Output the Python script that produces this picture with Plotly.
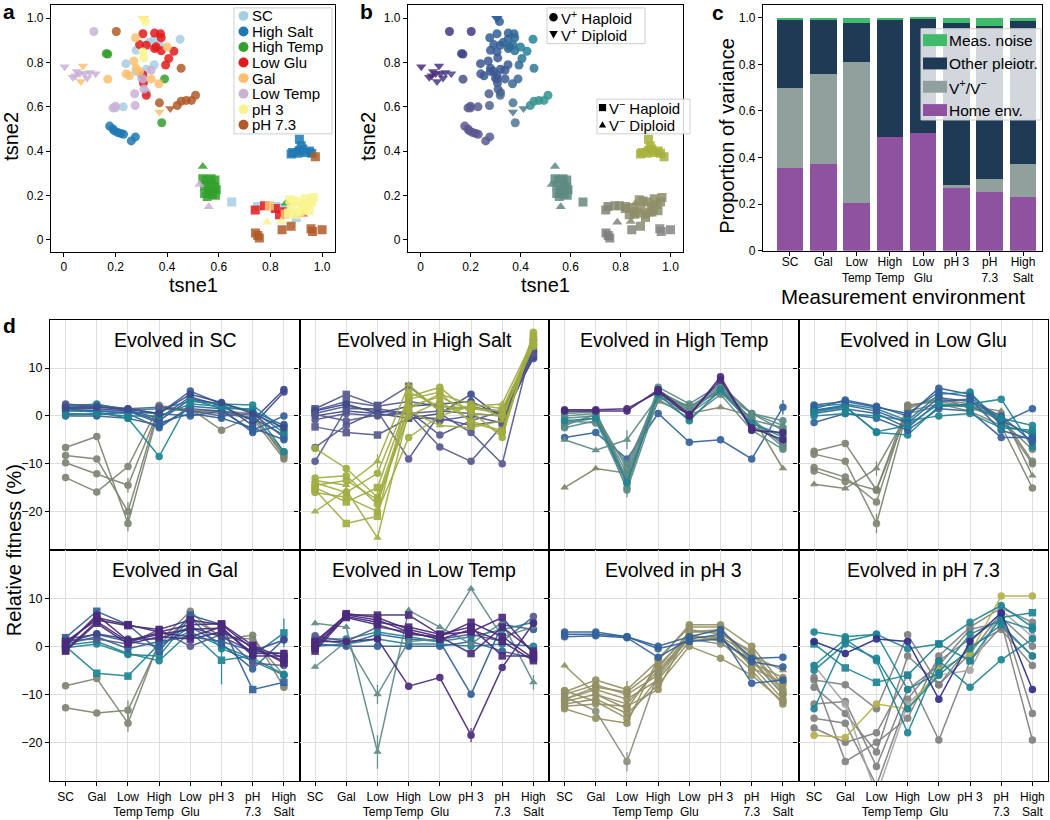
import plotly.graph_objects as go

W, H = 1050, 820
def px(x): return x / W
def py(y): return 1 - y / H

FONT = "Liberation Sans, Arial, Helvetica, sans-serif"

# ---------------- data ----------------
ENVS = ['SC', 'Gal', 'Low Temp', 'High Temp', 'Low Glu', 'pH 3', 'pH 7.3', 'High Salt']
ENV_TICKS = ['SC', 'Gal', 'Low<br>Temp', 'High<br>Temp', 'Low<br>Glu', 'pH 3', 'pH<br>7.3', 'High<br>Salt']
LEGEND_A = ['SC', 'High Salt', 'High Temp', 'Low Glu', 'Gal', 'Low Temp', 'pH 3', 'pH 7.3']

# t-SNE points per home environment: (tsne1, tsne2, kind) ; o=V+ haploid, v=V+ diploid, s=V- haploid, ^=V- diploid
PTS_SC = [(0.45,0.905,'o'),(0.35,0.905,'o'),(0.33,0.89,'o'),(0.37,0.88,'o'),(0.28,0.855,'o'),(0.24,0.795,'o'),
          (0.35,0.79,'o'),(0.32,0.77,'o'),(0.28,0.76,'o'),(0.23,0.60,'o'),(0.20,0.595,'o'),(0.32,0.665,'o'),(0.30,0.73,'o'),
          (0.65,0.17,'s'),(0.75,0.15,'s'),(0.82,0.15,'s'),(0.85,0.145,'s'),(0.90,0.10,'s')]
PTS_HSALT = [(0.177,0.513,'o'),(0.19,0.50,'o'),(0.196,0.491,'o'),(0.209,0.484,'o'),(0.22,0.48,'o'),(0.231,0.476,'o'),
             (0.261,0.446,'o'),(0.277,0.464,'o'),
             (0.912,0.454,'s'),(0.919,0.424,'s'),(0.886,0.394,'s'),(0.906,0.39,'s'),(0.938,0.394,'s'),(0.951,0.40,'s'),
             (0.912,0.40,'s'),(0.88,0.387,'s'),(0.925,0.41,'s'),(0.96,0.39,'s'),(0.90,0.405,'^')]
PTS_HTEMP = [(0.164,0.84,'o'),(0.17,0.838,'o'),(0.39,0.726,'o'),(0.379,0.528,'o'),
             (0.538,0.275,'s'),(0.552,0.27,'s'),(0.57,0.275,'s'),(0.585,0.27,'s'),(0.545,0.245,'s'),(0.574,0.246,'s'),
             (0.56,0.23,'s'),(0.585,0.235,'s'),(0.545,0.208,'s'),(0.565,0.215,'s'),(0.587,0.20,'s'),(0.555,0.195,'s'),
             (0.575,0.205,'s'),(0.59,0.225,'s'),(0.538,0.33,'^'),(0.86,0.164,'^')]
PTS_LGLU = [(0.306,0.93,'o'),(0.351,0.933,'o'),(0.374,0.93,'o'),(0.377,0.912,'o'),(0.293,0.881,'o'),(0.319,0.878,'o'),
            (0.351,0.863,'o'),(0.357,0.871,'o'),(0.377,0.853,'o'),(0.426,0.851,'o'),(0.406,0.818,'o'),(0.394,0.789,'o'),
            (0.306,0.744,'o'),(0.308,0.707,'o'),(0.319,0.652,'o'),
            (0.741,0.134,'s'),(0.777,0.153,'s'),(0.819,0.141,'s'),(0.835,0.112,'s'),(0.855,0.126,'s'),(0.925,0.115,'^')]
PTS_GAL = [(0.277,0.912,'o'),(0.40,0.87,'o'),(0.271,0.807,'o'),(0.28,0.774,'o'),(0.241,0.749,'o'),(0.254,0.74,'o'),
           (0.17,0.725,'o'),(0.338,0.726,'o'),(0.368,0.704,'o'),(0.293,0.759,'o'),
           (0.074,0.784,'v'),(0.308,1.0,'v'),(0.37,0.576,'v'),(0.066,0.714,'v'),
           (0.796,0.153,'s'),(0.857,0.115,'s')]
PTS_LTEMP = [(0.116,0.94,'o'),(0.338,0.765,'o'),(0.306,0.726,'o'),(0.31,0.68,'o'),(0.274,0.659,'o'),(0.276,0.606,'o'),
             (0.19,0.595,'o'),(0.20,0.603,'o'),
             (0.003,0.781,'v'),(0.035,0.734,'v'),(0.05,0.759,'v'),(0.061,0.75,'v'),(0.08,0.75,'v'),(0.10,0.755,'v'),
             (0.123,0.749,'v'),(0.09,0.73,'v'),(0.045,0.74,'v'),
             (0.525,0.249,'^'),(0.561,0.149,'^')]
PTS_PH3 = [(0.316,0.985,'o'),(0.306,0.848,'o'),(0.309,0.821,'o'),(0.303,1.0,'v'),
           (0.875,0.18,'s'),(0.89,0.175,'s'),(0.91,0.17,'s'),(0.935,0.185,'s'),(0.966,0.19,'s'),(0.925,0.15,'s'),
           (0.932,0.135,'s'),(0.915,0.125,'s'),(0.90,0.115,'s'),(0.95,0.13,'s'),(0.96,0.17,'s'),(0.88,0.14,'s'),
           (0.945,0.16,'s'),(0.87,0.12,'s'),(0.787,0.079,'^'),(0.841,0.082,'^')]
PTS_PH73 = [(0.203,0.94,'o'),(0.454,0.774,'o'),(0.37,0.618,'o'),(0.439,0.606,'o'),(0.454,0.625,'o'),(0.474,0.629,'o'),
            (0.494,0.629,'o'),(0.51,0.652,'o'),(0.412,0.592,'v'),
            (0.974,0.375,'s'),(0.742,0.03,'s'),(0.751,0.019,'s'),(0.757,0.007,'s'),(0.845,0.045,'s'),(0.88,0.06,'s'),
            (0.957,0.049,'s'),(0.963,0.037,'s'),(1.0,0.045,'s')]
PTS = {'SC': PTS_SC, 'High Salt': PTS_HSALT, 'High Temp': PTS_HTEMP, 'Low Glu': PTS_LGLU,
       'Gal': PTS_GAL, 'Low Temp': PTS_LTEMP, 'pH 3': PTS_PH3, 'pH 7.3': PTS_PH73}

# variance partition (panel c), in ENVS order
VAR_HOME  = [0.357, 0.373, 0.204, 0.487, 0.506, 0.270, 0.251, 0.231]
VAR_VPM   = [0.341, 0.387, 0.607, 0.000, 0.000, 0.014, 0.058, 0.143]
VAR_OTHER = [0.295, 0.233, 0.165, 0.506, 0.491, 0.692, 0.656, 0.612]
VAR_NOISE = [0.007, 0.007, 0.024, 0.007, 0.003, 0.024, 0.035, 0.014]
VAR_NAMES = ['Home env.', 'V<sup>+</sup>/V<sup>−</sup>', 'Other pleiotr.', 'Meas. noise']

# relative fitness (%) of mutants, measured in ENVS order: (colour key, marker, values[, error bars])
FIT_SC = [
    ('ggr','o',[-6.6,-4.3,-22.5,1.5,1.0,1.0,0.0,-8.0],[0,0,1.6,0,0,0,0,0]),
    ('ggr','o',[-8.3,-9.0,-20.0,2.0,1.0,0.5,-0.5,-9.0],[0,0,2.0,0,0,0,0,0]),
    ('ggr','o',[-9.8,-12.1,-14.5,1.5,1.5,-3.0,0.0,-7.5],[0,0,1.5,0,0,0,0,0]),
    ('ggr','o',[-12.9,-15.9,-10.6,2.2,1.0,1.0,0.5,-8.5]),
    ('blu','o',[2.3,2.3,1.5,0.5,5.2,2.5,1.0,-2.0]),
    ('ind','o',[1.8,2.0,1.2,-0.5,4.0,2.0,-1.0,5.5]),
    ('ind','o',[1.5,1.5,1.0,-1.0,3.5,2.5,-2.0,5.0]),
    ('blu','o',[1.0,1.0,0.5,-2.5,2.0,1.5,-3.5,-1.8]),
    ('blu','o',[0.0,0.0,-0.5,-2.0,1.5,1.0,-3.0,0.0]),
    ('tea','o',[2.0,2.5,1.2,1.5,3.0,2.5,2.3,-3.0]),
    ('tea','o',[1.2,0.8,-0.5,-8.5,3.5,1.5,1.5,-7.5]),
    ('blu','o',[0.5,0.3,0.8,0.5,0.0,1.0,-0.5,-4.0]),
    ('sla','o',[2.5,2.0,1.5,1.8,1.0,0.0,0.5,-4.5]),
    ('blu','o',[1.5,1.0,1.0,-1.5,0.5,-0.5,-2.5,-5.0]),
    ('tea','o',[0.2,0.5,0.0,0.0,2.5,2.0,1.0,-3.5]),
    ('ind','o',[1.7,1.8,1.4,0.5,4.5,2.8,0.5,-2.5]),
]
FIT_HSALT = [
    ('sla','s',[1.5,4.5,2.2,6.2,1.0,0.5,0.0,14.0]),
    ('sla','s',[1.2,3.0,2.0,3.0,2.0,1.5,1.0,13.0]),
    ('sla','o',[0.5,2.0,1.0,0.5,1.0,2.0,0.5,15.0]),
    ('ind','o',[0.0,1.0,0.5,-0.5,0.5,4.5,-0.5,13.5]),
    ('sla','o',[-0.8,0.5,0.0,1.0,-4.0,-1.0,1.0,14.5]),
    ('sla','s',[-2.3,-3.5,-4.0,-0.5,-0.5,-2.0,-1.0,12.5]),
    ('sla','o',[-6.6,-2.0,1.0,-9.0,0.5,-3.5,-10.0,16.0]),
    ('sla','o',[-9.5,1.5,1.5,0.5,-6.5,-9.5,-2.0,15.5]),
    ('ind','o',[1.0,2.5,0.5,2.0,2.5,3.0,0.0,12.0]),
    ('sla','o',[0.3,-1.0,0.2,0.5,-1.0,0.0,-1.5,13.0]),
    ('oli','o',[-6.8,-11.0,-17.0,2.0,4.0,1.0,-4.5,17.5],[0,0,1.5,0,0,0,0,0]),
    ('oli','^',[-13.5,-14.5,-9.5,6.5,1.0,2.0,2.5,16.0],[0,0,1.5,0,0,0,0,0]),
    ('oli','o',[-14.0,-16.0,-12.0,4.0,6.0,0.5,0.0,15.0]),
    ('oli','s',[-15.0,-18.0,-15.0,3.5,5.0,-1.5,-3.0,16.5]),
    ('oli','o',[-16.0,-17.0,-20.0,-4.5,0.0,2.0,0.0,14.5]),
    ('oli','^',[-20.0,-15.5,-25.5,1.0,-2.0,-2.5,-1.0,17.0]),
    ('oli','s',[-15.5,-22.5,-21.0,5.0,2.0,1.5,1.0,15.5]),
    ('oli','o',[-14.5,-13.5,-17.5,0.0,3.0,-1.0,-3.5,16.0]),
    ('oli','o',[-13.0,-12.5,-18.5,1.5,4.5,2.5,1.5,15.0]),
]
FIT_HTEMP = [
    ('olg','^',[-15.0,-11.0,-12.0,3.0,0.5,1.8,0.0,-11.0]),
    ('blu','o',[-4.5,-3.5,-9.0,0.5,-5.5,-5.0,-9.0,1.8],[0,0,0,0,0,0,0,1.5]),
    ('tgr','o',[-0.5,0.0,-12.0,5.5,1.0,6.0,0.5,-3.0]),
    ('tgr','o',[-1.5,-0.5,-13.0,4.5,2.0,5.0,-0.5,-6.0]),
    ('tgr','o',[-2.5,-1.0,-15.0,5.0,1.5,5.5,-2.0,-5.5],[0,0,2.0,0,0,0,0,0]),
    ('tgr','o',[0.0,0.5,-14.0,6.0,2.5,6.5,0.5,-1.0]),
    ('tgr','o',[-1.0,-1.5,-10.0,4.0,0.5,5.0,-1.5,-4.0]),
    ('tgr','o',[0.5,0.8,-15.5,3.5,-0.5,4.5,-3.0,-7.0]),
    ('tgr','^',[-5.0,-7.2,-5.0,4.0,2.0,5.0,0.5,-2.0],[0,0,2.0,0,0,0,0,0]),
    ('tgr','o',[-2.0,0.3,-11.0,5.2,1.8,6.2,-1.0,-6.5]),
    ('tgr','o',[0.8,1.0,-13.5,4.8,0.8,5.8,-0.8,-2.5]),
    ('tea','o',[-1.0,-0.5,-14.0,4.5,-1.0,5.5,-1.5,-4.5]),
    ('pur','o',[1.3,1.3,1.5,5.0,0.0,8.2,-3.0,-3.5]),
    ('pur','o',[1.0,1.0,1.0,5.5,0.3,7.5,-2.5,-5.0]),
]
FIT_LGLU = [
    ('ggr','o',[-7.4,-5.8,-15.5,2.3,3.0,2.0,-1.0,-7.0]),
    ('ggr','o',[-8.0,-9.5,-22.5,1.5,4.0,1.5,0.0,-9.5],[0,0,2.0,0,0,0,0,0]),
    ('ggr','o',[-10.8,-12.8,-18.0,2.0,3.5,2.5,-0.5,-10.0]),
    ('ggr','o',[-11.5,-13.7,-15.5,1.0,2.5,1.0,-2.0,-15.1]),
    ('ggr','^',[-14.3,-15.2,-11.0,0.5,2.0,2.0,1.0,-12.5],[0,0,1.5,0,0,0,0,0]),
    ('blu','o',[1.5,3.3,2.0,0.0,5.8,4.5,-1.0,-4.0]),
    ('tea','o',[2.0,2.5,1.5,-1.0,4.5,5.0,-2.0,-3.5]),
    ('blu','o',[0.5,1.5,0.5,-2.5,3.0,3.5,-3.0,-5.0]),
    ('tea','o',[1.0,2.0,-3.5,-4.0,2.0,2.5,3.5,-6.5]),
    ('blu','o',[-1.4,0.5,-0.5,-3.0,1.5,1.0,-4.5,-4.5]),
    ('blu','o',[2.3,3.0,1.8,0.5,5.0,4.0,-1.5,1.5]),
    ('tea','o',[0.0,0.5,0.0,-1.0,0.0,0.5,-2.5,-3.0]),
    ('blu','o',[1.2,2.2,1.0,-1.5,3.8,3.0,0.0,-5.5]),
    ('tea','o',[0.8,1.8,-3.3,-2.0,2.5,2.0,-0.5,-2.0]),
]
FIT_GAL = [
    ('ggr','o',[-8.2,-6.7,-16.0,1.0,7.3,1.5,2.3,-8.5],[0,0,1.8,0,0,0,0,0]),
    ('ggr','o',[-12.8,-13.9,-13.3,0.5,6.0,2.0,1.5,-6.0],[0,0,2.0,0,0,0,0,0]),
    ('tea','o',[0.2,1.0,-1.5,-3.0,3.0,0.0,-2.5,-5.8]),
    ('tea','o',[-0.3,0.5,-1.7,-2.0,6.0,-0.5,-3.0,-6.0]),
    ('tea','s',[0.0,-5.6,-6.2,0.5,3.0,-2.9,-2.0,2.8],[0,0,0,0,0,5.0,0,3.0]),
    ('blu','s',[1.8,7.3,4.5,-1.0,6.5,4.5,-9.0,-7.5]),
    ('blu','o',[1.5,2.5,1.0,0.0,4.0,0.5,-4.7,1.5]),
    ('blu','o',[0.5,2.0,-0.5,1.0,2.0,1.0,-1.0,-1.5]),
    ('sla','o',[1.2,1.5,0.5,3.5,0.0,2.5,-3.5,-4.0]),
    ('ind','o',[0.8,2.6,1.5,1.5,4.0,2.0,-1.0,1.3]),
    ('pur','s',[0.5,6.0,4.5,3.0,4.5,4.7,0.2,-2.5]),
    ('pur','s',[1.0,5.5,4.3,3.5,5.5,4.5,-0.5,-3.0]),
    ('pur','s',[-0.8,5.2,1.0,2.5,3.5,3.8,-1.5,-1.5]),
    ('pur','o',[0.0,6.5,1.2,2.8,2.0,4.0,-2.0,-2.0]),
    ('pur','s',[-1.0,4.8,0.5,2.0,1.5,3.0,0.0,-3.5]),
]
FIT_LTEMP = [
    ('tea','o',[0.0,0.5,1.5,0.5,0.5,0.0,0.5,0.0]),
    ('blu','o',[0.5,0.0,0.0,0.0,0.0,1.0,-1.0,-2.5]),
    ('blu','o',[1.5,0.5,2.5,1.5,1.0,-10.0,4.5,3.5]),
    ('tea','o',[1.5,1.5,3.0,2.0,1.0,2.0,3.5,5.0]),
    ('tgr','^',[4.8,4.0,-22.0,7.5,4.0,0.5,5.0,-7.5],[0,0,3.5,0,0,0,0,1.5]),
    ('tgr','^',[-4.3,1.0,-10.0,1.0,1.5,12.0,2.0,4.0],[0,0,2.0,0,0,0,0,0]),
    ('sla','o',[2.2,1.0,4.0,3.0,1.5,2.5,1.0,6.2]),
    ('pur','s',[0.5,6.5,6.5,6.5,2.5,3.0,6.0,-1.5]),
    ('pur','s',[-0.5,6.8,6.0,3.5,2.0,5.0,2.0,-2.5]),
    ('pur','s',[-1.0,6.2,5.0,4.0,2.5,4.0,-2.0,-2.0]),
    ('pur','s',[1.0,6.5,5.5,3.0,1.5,3.5,1.0,-3.0]),
    ('pur','s',[0.0,6.0,4.5,2.5,2.0,-1.5,4.0,-1.0]),
    ('pur','o',[1.0,1.0,1.5,-8.3,-6.5,-18.5,-4.4,4.8],[0,0,0,0,0,1.5,0,0]),
]
FIT_PH3 = [
    ('khk','^',[-4.0,-10.0,-12.0,-5.0,2.0,2.0,-2.0,-5.0]),
    ('khk','o',[-9.5,-7.0,-9.0,-3.0,4.5,4.5,0.0,-8.0],[0,0,1.8,0,0,0,0,0]),
    ('khk','o',[-10.0,-8.0,-10.0,-6.0,3.0,3.5,-3.0,-10.0]),
    ('khk','o',[-11.0,-9.0,-11.0,-7.0,1.0,2.0,-4.0,-11.0]),
    ('khk','o',[-11.5,-10.0,-13.0,-4.0,2.5,1.0,-5.0,-12.0]),
    ('khk','o',[-12.0,-11.0,-14.0,-8.0,0.0,-2.5,-6.0,-11.5]),
    ('khk','o',[-12.5,-12.0,-12.5,-9.0,3.5,2.5,-1.0,-9.0]),
    ('khk','o',[-13.0,-15.0,-16.0,-2.5,4.0,4.0,-4.5,-7.5]),
    ('kgr','o',[-10.5,-13.5,-24.0,-5.5,1.5,0.5,-2.5,-10.0],[0,0,2.0,0,0,0,0,0]),
    ('khk','o',[-11.0,-8.5,-9.5,-4.5,3.0,3.0,-1.5,-9.5]),
    ('khk','o',[-9.2,-11.5,-15.0,-6.5,2.0,1.5,-3.5,-6.5]),
    ('blu','o',[3.0,3.0,2.0,0.0,2.0,3.5,-2.5,-2.3]),
    ('blu','o',[2.0,2.2,1.8,-2.3,1.5,2.5,-7.7,-7.0]),
    ('blu','o',[2.5,2.5,2.0,-0.5,1.0,1.5,-3.2,-4.3]),
]
FIT_PH73 = [
    ('gry','o',[-7.0,-8.0,-13.0,2.4,-8.0,-1.5,7.0,-14.0]),
    ('gry','o',[-12.0,-11.5,-25.0,-9.0,-4.0,3.5,5.0,-19.5]),
    ('gry','o',[-15.0,-16.0,-29.0,-11.0,-3.0,1.5,6.0,0.0]),
    ('gry','o',[-17.0,-20.0,-18.0,-6.0,-19.5,-3.0,4.0,-2.0]),
    ('gry','o',[-6.5,-24.0,-20.0,-15.0,-2.0,4.0,8.0,5.0]),
    ('gry','o',[-8.5,-14.0,-22.0,-2.0,-8.0,0.0,3.5,-4.0]),
    ('lgr','o',[-4.0,-12.0,-31.0,-12.0,-6.0,-5.0,7.5,2.0]),
    ('yel','o',[-18.5,-19.0,-12.0,-13.0,-5.0,-1.5,10.5,10.5]),
    ('tea','o',[3.0,2.0,2.5,-0.5,0.5,5.0,8.5,4.0]),
    ('tea','s',[0.5,-4.5,-7.5,-6.0,0.5,-3.0,6.0,7.0]),
    ('tea','o',[-4.0,1.5,-3.0,-18.0,-3.0,-8.5,-2.8,1.5]),
    ('tea','o',[-13.0,1.0,2.5,-9.0,-5.5,2.5,5.5,3.5]),
    ('tea','o',[-5.0,0.5,-2.5,-13.0,-6.0,-0.5,4.5,-2.0]),
    ('nav','o',[1.0,-1.5,1.5,1.0,-11.0,1.0,7.0,-9.0]),
]
PANELS_D = [('Evolved in SC', FIT_SC), ('Evolved in High Salt', FIT_HSALT),
            ('Evolved in High Temp', FIT_HTEMP), ('Evolved in Low Glu', FIT_LGLU),
            ('Evolved in Gal', FIT_GAL), ('Evolved in Low Temp', FIT_LTEMP),
            ('Evolved in pH 3', FIT_PH3), ('Evolved in pH 7.3', FIT_PH73)]

# ---------------- styles ----------------
ENV_COLORS = {'SC': '#a6cee3', 'High Salt': '#1f78b4', 'High Temp': '#33a02c', 'Low Glu': '#e31a1c',
              'Gal': '#fdbf6f', 'Low Temp': '#cab2d6', 'pH 3': '#f9f58e', 'pH 7.3': '#b15928'}
VAR_COLORS = ['#8e52a1', '#8fa09d', '#1e3a55', '#3fbb6b']
SYM = {'o': 'circle', 'v': 'triangle-down', 's': 'square', '^': 'triangle-up'}
LINE_COLORS = {'pur': '#4a2a7c', 'ind': '#3e4a8b', 'blu': '#33619a', 'tea': '#1f8494', 'sla': '#56598f',
               'tgr': '#5e8a86', 'oli': '#a2ad42', 'olg': '#7f8567', 'gry': '#808080', 'ggr': '#7d8571',
               'yel': '#b3b04a', 'lgr': '#a5a5a5', 'khk': '#949064', 'kgr': '#8a8e7c', 'nav': '#2e2d88'}
CMAP_ANCHORS = [(0.0, 0.78, '#4a2a7a'), (0.15, 0.94, '#433584'), (0.32, 0.95, '#2f5f98'),
                (0.45, 0.88, '#23839a'), (0.5, 0.62, '#329690'), (0.2, 0.48, '#5a5890'),
                (0.2, 0.6, '#5a5b90'), (0.3, 0.78, '#3b5893'), (0.38, 0.55, '#4f768e'),
                (0.56, 0.24, '#5e8a84'), (0.9, 0.4, '#a8b13c'), (0.9, 0.15, '#8f8e68'),
                (0.75, 0.02, '#7f7f7f'), (1.0, 0.05, '#858585')]

def hex2rgb(h):
    return tuple(int(h[i:i + 2], 16) for i in (1, 3, 5))

def cmap2d(x, y):
    ws, cs = [], []
    for ax_, ay_, c in CMAP_ANCHORS:
        d2 = (x - ax_) ** 2 + (y - ay_) ** 2 + 1e-6
        ws.append(1.0 / d2 ** 1.5)
        cs.append(hex2rgb(c))
    s = sum(ws)
    r = [sum(w * c[k] for w, c in zip(ws, cs)) / s for k in range(3)]
    return 'rgb(%d,%d,%d)' % tuple(int(round(v)) for v in r)

fig = go.Figure()

# ---------------- panels a and b ----------------
for env in LEGEND_A:
    for kind in ['o', 'v', 's', '^']:
        pts = [p for p in PTS[env] if p[2] == kind]
        if not pts:
            continue
        xs, ys = [p[0] for p in pts], [p[1] for p in pts]
        fig.add_trace(go.Scatter(x=xs, y=ys, mode='markers',
                                 marker=dict(symbol=SYM[kind], size=9, color=ENV_COLORS[env], opacity=0.85),
                                 xaxis='x', yaxis='y', showlegend=False, hoverinfo='skip'))
        fig.add_trace(go.Scatter(x=xs, y=ys, mode='markers',
                                 marker=dict(symbol=SYM[kind], size=9, color=[cmap2d(a, b) for a, b in zip(xs, ys)],
                                             opacity=0.85),
                                 xaxis='x2', yaxis='y2', showlegend=False, hoverinfo='skip'))

# ---------------- panel c ----------------
xi = list(range(len(ENVS)))
for vals, name, col in zip([VAR_HOME, VAR_VPM, VAR_OTHER, VAR_NOISE], VAR_NAMES, VAR_COLORS):
    fig.add_trace(go.Bar(x=xi, y=vals, name=name, marker=dict(color=col, line=dict(width=0)), width=0.8,
                         xaxis='x3', yaxis='y3', showlegend=False, hoverinfo='skip'))

# ---------------- panel d ----------------
for i, (title, lines) in enumerate(PANELS_D):
    xa, ya = 'x%d' % (4 + i), 'y%d' % (4 + i)
    for entry in lines:
        col, mk, vals = entry[0], entry[1], entry[2]
        err = entry[3] if len(entry) > 3 else None
        colour = LINE_COLORS[col]
        fig.add_trace(go.Scatter(x=xi, y=vals, mode='lines+markers',
                                 line=dict(color=colour, width=1.5),
                                 marker=dict(symbol=SYM[mk], size=7.5, color=colour),
                                 error_y=(dict(type='data', array=err, visible=True, color=colour, thickness=1.3,
                                               width=0) if err else None),
                                 opacity=0.92, xaxis=xa, yaxis=ya, showlegend=False, hoverinfo='skip'))

# ---------------- layout ----------------
def axis(domain, rng, anchor, **kw):
    d = dict(domain=domain, range=rng, anchor=anchor, showline=True, mirror=True, linecolor='black',
             linewidth=1.3, ticks='outside', ticklen=4, tickwidth=1.1, tickcolor='black', showgrid=False,
             zeroline=False, tickfont=dict(size=12, family=FONT))
    d.update(kw)
    return d

T01 = [0, 0.2, 0.4, 0.6, 0.8, 1.0]
T01L = ['0', '0.2', '0.4', '0.6', '0.8', '1.0']
lay = dict(width=W, height=H, margin=dict(l=0, r=0, t=0, b=0), plot_bgcolor='white', paper_bgcolor='white',
           font=dict(family=FONT, size=12, color='black'), barmode='stack', bargap=0.2, showlegend=False)

ya_dom = [py(254), py(5)]
lay['xaxis'] = axis([px(51), px(335)], [-0.05, 1.05], 'y', tickvals=T01, ticktext=T01L)
lay['yaxis'] = axis(ya_dom, [-0.055, 1.06], 'x', tickvals=T01, ticktext=T01L)
lay['xaxis2'] = axis([px(408), px(683)], [-0.05, 1.05], 'y2', tickvals=T01, ticktext=T01L)
lay['yaxis2'] = axis(ya_dom, [-0.055, 1.06], 'x2', tickvals=T01, ticktext=T01L)
lay['xaxis3'] = axis([px(763), px(1042)], [-0.81, 7.57], 'y3', tickvals=xi, ticktext=ENV_TICKS, tickangle=0,
                     ticklabelstandoff=-4)
lay['yaxis3'] = axis([py(253), py(5)], [0, 1.055], 'x3', tickvals=T01, ticktext=T01L)

cols = [(50, 299.5), (299.5, 549), (549, 798.5), (798.5, 1048)]
rows = [(323, 555), (555, 788)]
annotations = []
shapes = []
for i, (title, _) in enumerate(PANELS_D):
    r, c = divmod(i, 4)
    n = 4 + i
    x0, x1 = cols[c]
    y0, y1 = rows[r]
    lay['xaxis%d' % n] = axis([px(x0), px(x1)], [-0.5, 7.5], 'y%d' % n, tickvals=xi, ticktext=ENV_TICKS,
                              showticklabels=(r == 1), showgrid=True, gridcolor='#dedede', gridwidth=1,
                              tickangle=0, tickfont=dict(size=12, family=FONT))
    lay['yaxis%d' % n] = axis([py(y1), py(y0)], [-28.1, 20], 'x%d' % n, tickvals=[-20, -10, 0, 10],
                              showticklabels=(c == 0), showgrid=True, gridcolor='#dedede', gridwidth=1,
                              tickfont=dict(size=12.5, family=FONT))
    annotations.append(dict(text=title, xref='x%d domain' % n, yref='y%d domain' % n, x=0.5,
                            y=1 - 20 / (y1 - y0), xanchor='center', yanchor='middle', showarrow=False,
                            font=dict(size=19.5, family=FONT)))

def txt(t, x, y, size, angle=0, bold=False, anchor='center'):
    annotations.append(dict(text=('<b>%s</b>' % t) if bold else t, xref='paper', yref='paper', x=px(x), y=py(y),
                            xanchor=anchor, yanchor='middle', showarrow=False, textangle=angle,
                            font=dict(size=size, family=FONT)))

txt('a', 9, 12, 21, bold=True)
txt('b', 366, 12, 21, bold=True)
txt('c', 718, 13, 21, bold=True)
txt('d', 9, 328, 21, bold=True)
txt('tsne1', 193, 287, 20)
txt('tsne1', 545, 287, 20)
txt('tsne2', 11, 138, 20, angle=-90)
txt('tsne2', 368, 138, 20, angle=-90)
txt('Proportion of variance', 727, 137, 20, angle=-90)
txt('Measurement environment', 903, 299, 20.5)
txt('Relative fitness (%)', 14, 555, 20, angle=-90)

# ---------------- hand-drawn legends (paper coordinates) ----------------
def box(x0, y0, x1, y1, fill='rgba(255,255,255,0.85)'):
    shapes.append(dict(type='rect', xref='paper', yref='paper', x0=px(x0), x1=px(x1), y0=py(y1), y1=py(y0),
                       line=dict(color='#cfcfcf', width=1), fillcolor=fill, layer='above'))

def symbol(kind, cx, cy, r, color):
    if kind == 'o':
        shapes.append(dict(type='circle', xref='paper', yref='paper', x0=px(cx - r), x1=px(cx + r),
                           y0=py(cy + r), y1=py(cy - r), fillcolor=color, line=dict(width=0), layer='above'))
        return
    if kind == 's':
        pts = [(cx - r * 0.9, cy - r * 0.9), (cx + r * 0.9, cy - r * 0.9), (cx + r * 0.9, cy + r * 0.9),
               (cx - r * 0.9, cy + r * 0.9)]
    elif kind == 'v':
        pts = [(cx - r, cy - r * 0.75), (cx + r, cy - r * 0.75), (cx, cy + r)]
    else:
        pts = [(cx - r, cy + r * 0.75), (cx + r, cy + r * 0.75), (cx, cy - r)]
    path = 'M ' + ' L '.join('%.5f,%.5f' % (px(a), py(b)) for a, b in pts) + ' Z'
    shapes.append(dict(type='path', xref='paper', yref='paper', path=path, fillcolor=color,
                       line=dict(width=0), layer='above'))

# legend a
box(234, 8, 332, 135)
for k, env in enumerate(LEGEND_A):
    yy = 16 + 15.7 * k
    symbol('o', 243.5, yy, 5, ENV_COLORS[env])
    txt(env, 250, yy, 15, anchor='left')
# legends b
box(547, 8, 645, 44)
for k, (name, kind) in enumerate([('V<sup>+</sup> Haploid', 'o'), ('V<sup>+</sup> Diploid', 'v')]):
    yy = 17.5 + 17 * k
    symbol(kind, 553.5, yy, 4.3, 'black')
    txt(name, 559, yy, 15, anchor='left')
box(597, 100, 690, 135)
for k, (name, kind) in enumerate([('V<sup>−</sup> Haploid', 's'), ('V<sup>−</sup> Diploid', '^')]):
    yy = 108.5 + 17.5 * k
    symbol(kind, 602.5, yy, 4.0 if kind == 's' else 3.6, 'black')
    txt(name, 607, yy, 15, anchor='left')
# legend c
box(921, 29, 1041, 121, fill='rgba(255,255,255,0.8)')
for k, idx in enumerate([3, 2, 1, 0]):
    yy = 40.5 + 23.5 * k
    shapes.append(dict(type='rect', xref='paper', yref='paper', x0=px(923), x1=px(947), y0=py(yy + 6),
                       y1=py(yy - 6), fillcolor=VAR_COLORS[idx], line=dict(width=0), layer='above'))
    txt(VAR_NAMES[idx], 947, yy, 15.5, anchor='left')

lay['annotations'] = annotations
lay['shapes'] = shapes
fig.update_layout(**lay)
fig.write_html('out.html', config={'displayModeBar': False},
               post_script="document.body.style.margin='0px';document.body.style.overflow='hidden';")
